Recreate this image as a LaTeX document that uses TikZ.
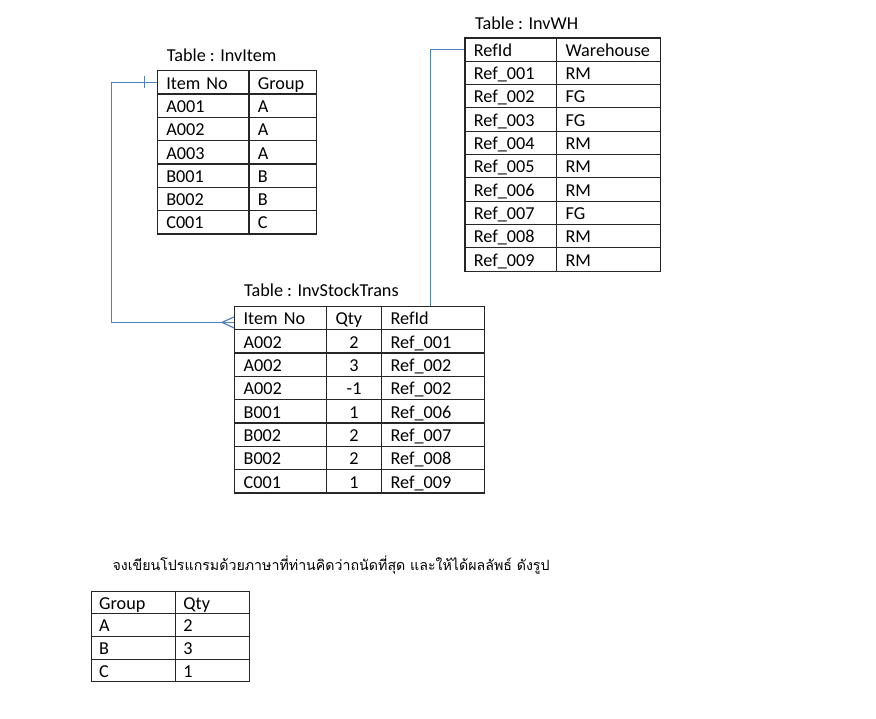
\documentclass[tikz,border=0pt]{standalone}
\usepackage{fontspec}
\setmainfont{Carlito}
\newfontfamily\thaifont[Script=Thai]{Loma}
\usetikzlibrary{calc}
\definecolor{conn}{RGB}{79,129,189}
\begin{document}
\begin{tikzpicture}[x=1pt,y=-1pt,
  every node/.style={font=\fontsize{18.2}{22}\selectfont},
  cellbox/.style={draw=black!85, line width=1.2pt, anchor=north west,
    minimum height=23.33pt, inner ysep=0pt, inner xsep=9pt,
    text height=13.5pt, text depth=0pt, align=left},
  numbox/.style={cellbox, align=center},
  smallcell/.style={cellbox, line width=0.9pt, minimum height=22.6pt, inner xsep=8pt},
  title/.style={anchor=west, inner sep=0pt},
  link/.style={draw=conn, line width=1.2pt}]
\useasboundingbox (0,0) rectangle (876,718);

% ---------- Table : InvItem ----------
\node[title] (t-item) at (166.7,55) {Table : InvItem};
\node[cellbox, text width=73.6pt] (it-0-0) at (156.7,70) {Item No};
\node[cellbox, text width=49.4pt] (it-0-1) at (248.3,70) {Group};
\foreach \a/\b [count=\i] in {A001/A,A002/A,A003/A,B001/B,B002/B,C001/C}{
  \node[cellbox, text width=73.6pt] (it-\i-0) at (156.7,{70+\i*23.33}) {\a};
  \node[cellbox, text width=49.4pt] (it-\i-1) at (248.3,{70+\i*23.33}) {\b};
}

% ---------- Table : InvWH ----------
\node[title] (t-wh) at (475,23.3) {Table : InvWH};
\node[cellbox, text width=73.7pt] (wh-0-0) at (464.3,37.3) {RefId};
\node[cellbox, text width=86pt] (wh-0-1) at (556,37.3) {Warehouse};
\foreach \a/\b [count=\i] in {001/RM,002/FG,003/FG,004/RM,005/RM,006/RM,007/FG,008/RM,009/RM}{
  \node[cellbox, text width=73.7pt] (wh-\i-0) at (464.3,{37.3+\i*23.33}) {Ref\_\a};
  \node[cellbox, text width=86pt] (wh-\i-1) at (556,{37.3+\i*23.33}) {\b};
}

% ---------- Table : InvStockTrans ----------
\node[title] (t-st) at (244,290.7) {Table : InvStockTrans};
\node[cellbox, text width=74pt] (st-0-0) at (234,305.7) {Item No};
\node[cellbox, text width=37pt] (st-0-1) at (326,305.7) {Qty};
\node[cellbox, text width=85pt] (st-0-2) at (381,305.7) {RefId};
\foreach \a/\b/\c [count=\i] in {A002/2/001,A002/3/002,A002/-1/002,B001/1/006,B002/2/007,B002/2/008,C001/1/009}{
  \node[cellbox, text width=74pt] (st-\i-0) at (234,{305.7+\i*23.33}) {\a};
  \node[numbox, text width=37pt] (st-\i-1) at (326,{305.7+\i*23.33}) {\b};
  \node[cellbox, text width=85pt] (st-\i-2) at (381,{305.7+\i*23.33}) {Ref\_\c};
}

% ---------- Connectors ----------
\coordinate (bendA) at ($(it-0-0.west)+(-45,0)$);
\coordinate (endA) at ($(st-0-0.west)+(0,4.4)$);
\draw[link] (it-0-0.west) -- (bendA) |- (endA);
\draw[link] ($(it-0-0.west)+(-12,-6)$) -- ($(it-0-0.west)+(-12,6)$);
\draw[link] ($(st-0-0.west)+(0,-1)$) -- ($(endA)+(-12,0)$) -- ($(st-0-0.west)+(0,10)$);

\coordinate (endB) at ($(st-0-2.north)+(-2.5,0)$);
\draw[link] (wh-0-0.west) -| (endB);

% ---------- Question ----------
\node[anchor=west, inner sep=0pt, font=\thaifont\fontsize{14.2}{18}\selectfont] (q) at (112.3,565)
  {จงเขียนโปรแกรมด้วยภาษาที่ท่านคิดว่าถนัดที่สุด และให้ได้ผลลัพธ์ ดังรูป};

% ---------- Result table ----------
\node[smallcell, text width=68.3pt] (r-0-0) at (90.7,590.7) {Group};
\node[smallcell, text width=58.3pt] (r-0-1) at (175,590.7) {Qty};
\foreach \a/\b [count=\i] in {A/2,B/3,C/1}{
  \node[smallcell, text width=68.3pt] (r-\i-0) at (90.7,{590.7+\i*22.6}) {\a};
  \node[smallcell, text width=58.3pt] (r-\i-1) at (175,{590.7+\i*22.6}) {\b};
}
\end{tikzpicture}
\end{document}
